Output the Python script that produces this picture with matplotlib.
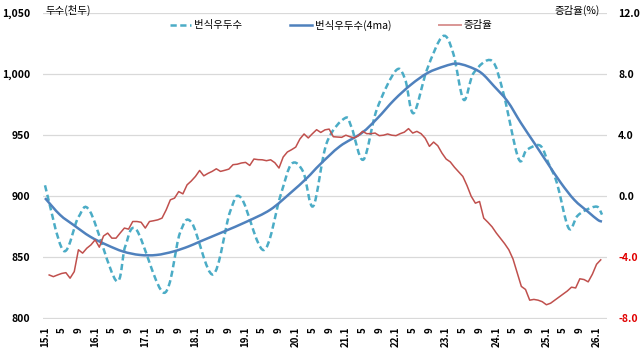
import numpy as np
import matplotlib
matplotlib.use("Agg")
import matplotlib.pyplot as plt
from matplotlib.path import Path
from matplotlib.patches import PathPatch
from matplotlib.lines import Line2D
from matplotlib.ticker import FuncFormatter

plt.rcParams['font.family'] = ['Noto Sans CJK KR', 'DejaVu Sans']

# x positions are month indices, 0 = 2015.1
tick_pos = list(range(0, 133, 4))
tick_labels = []
for i in tick_pos:
    yy, mo = 15 + i // 12, i % 12 + 1
    tick_labels.append(f"{yy}.1" if mo == 1 else str(mo))

# 번식우두수 (thousand head)
herd_pos = [0, 4.4, 8.0, 10.8, 17.0, 19.2, 21.9, 28.5, 32.3, 35.1, 40.2, 44.3,
            47.0, 52.3, 56.3, 59.0, 61.8, 64.2, 67.4, 71.8, 73.4, 76.2, 79.4,
            84.0, 86.2, 88.2, 91.4, 95.2, 97.7, 100.2, 102.6, 106.9, 109.7,
            113.3, 115.3, 118.5, 120.5, 122.5, 125.3, 127.3, 129.3, 132.1, 133.3]
herd_val = [909, 855.5, 883, 887.5, 831, 859, 872.5, 821, 870, 878.5, 836, 887.5,
            898.5, 856, 900, 926.5, 920, 892, 943.5, 964, 956, 930, 971,
            1003, 995.5, 968, 1003.5, 1031, 1017, 979, 1001, 1011, 984.5,
            931, 938, 941.5, 927, 911, 874, 883.5, 888.5, 891.5, 885]

# 번식우두수(4ma)
ma_pos = [0, 3.6, 6.8, 10.8, 14.8, 18.7, 22.7, 26.7, 30.7, 34.3, 37.1, 42.7,
          48.3, 53.9, 58.7, 62.7, 65.8, 70.6, 75.8, 79.6, 83.6, 87.6, 91.6,
          95.6, 98.4, 101.2, 104.4, 107.5, 110.7, 113.9, 117.1, 120.3, 123.5,
          126.7, 129.9, 132.3, 133.3]
ma_val = [898.5, 884.8, 876.6, 867, 860.2, 854.8, 852, 852, 854.8, 858.9, 863, 871,
          879.3, 889, 902.6, 915, 926, 941, 951.8, 964, 979, 991.4, 1001,
          1006.4, 1008.6, 1006.4, 1001, 990, 977.7, 960, 943.6, 927, 910.8,
          897, 887.5, 880.7, 879.3]

# 증감율 (%), monthly from 2015.2
rate_val = [-5.15, -5.26, -5.15, -5.05, -5.0, -5.36, -4.93, -3.5, -3.72, -3.4,
            -3.18, -2.85, -3.33, -2.6, -2.41, -2.74, -2.74, -2.4, -2.08, -2.15,
            -1.65, -1.65, -1.7, -2.08, -1.65, -1.6, -1.54, -1.43, -0.89, -0.23,
            -0.12, 0.31, 0.16, 0.75, 1.0, 1.3, 1.69, 1.34, 1.5, 1.63,
            1.8, 1.63, 1.7, 1.78, 2.07, 2.1, 2.18, 2.22, 2.02, 2.44,
            2.4, 2.39, 2.33, 2.39, 2.2, 1.85, 2.57, 2.9, 3.05, 3.22,
            3.75, 4.08, 3.82, 4.1, 4.36, 4.18, 4.35, 4.4, 3.9, 3.88,
            3.86, 4.0, 3.9, 3.82, 3.97, 4.25, 4.1, 4.1, 4.14, 3.97,
            4.0, 4.08, 4.0, 3.97, 4.1, 4.2, 4.43, 4.14, 4.25, 4.1,
            3.8, 3.27, 3.55, 3.31, 2.83, 2.44, 2.25, 1.9, 1.6, 1.3,
            0.7, 0.0, -0.45, -0.34, -1.43, -1.7, -2.0, -2.4, -2.75, -3.1,
            -3.5, -4.1, -5.0, -5.9, -6.1, -6.8, -6.75, -6.8, -6.9, -7.1,
            -7.0, -6.8, -6.6, -6.4, -6.2, -5.95, -6.0, -5.4, -5.45, -5.6,
            -5.1, -4.45, -4.16]
rate_pos = list(range(1, len(rate_val) + 1))

TEAL = '#4BACC6'
BLUE = '#4F81BD'
RED = '#C0504D'
DASH = (0, (2.5, 1.4))


def smooth_path(xs, ys):
    # catmull-rom through the points, like excel's smoothed line
    pts = np.column_stack([xs, ys]).astype(float)
    p = np.vstack([pts[0], pts, pts[-1]])
    verts = [pts[0]]
    codes = [Path.MOVETO]
    for i in range(1, len(p) - 2):
        p0, p1, p2, p3 = p[i - 1], p[i], p[i + 1], p[i + 2]
        verts += [p1 + (p2 - p0) / 6, p2 - (p3 - p1) / 6, p2]
        codes += [Path.CURVE4] * 3
    return Path(verts, codes)


fig = plt.figure(figsize=(6.43, 3.53), dpi=100)
ax = fig.add_axes([43 / 643, 1 - 318.5 / 353, 564 / 643, 305.5 / 353])
ax2 = ax.twinx()

ax.add_patch(PathPatch(smooth_path(herd_pos, herd_val), fill=False,
                       edgecolor=TEAL, lw=1.8, linestyle=DASH, zorder=3))
ax.add_patch(PathPatch(smooth_path(ma_pos, ma_val), fill=False,
                       edgecolor=BLUE, lw=1.8, zorder=4))
ax2.plot(rate_pos, rate_val, color=RED, lw=1.1)

ax.set_xlim(-0.48, 134.5)
ax.set_ylim(800, 1050)
ax2.set_ylim(-8, 12)
ax.set_yticks(range(800, 1051, 50))
ax2.set_yticks(range(-8, 13, 4))
ax.yaxis.set_major_formatter(FuncFormatter(lambda v, p: f"{v:,.0f}"))
ax2.yaxis.set_major_formatter(FuncFormatter(lambda v, p: f"{v:.1f}"))
ax.set_xticks(tick_pos)
ax.set_xticklabels(tick_labels, rotation=90)

ax.grid(axis='y', color='#D9D9D9', lw=0.9)
ax.set_axisbelow(True)
for a in (ax, ax2):
    for s in a.spines.values():
        s.set_visible(False)
    a.tick_params(length=0)
ax.tick_params(axis='y', pad=9, labelsize=7.5)
ax.tick_params(axis='x', pad=6, labelsize=7)
ax2.tick_params(axis='y', pad=8, labelsize=7.5)
for lbl in ax.get_xticklabels() + ax.get_yticklabels() + ax2.get_yticklabels():
    lbl.set_fontweight('bold')
for lbl, v in zip(ax2.get_yticklabels(), ax2.get_yticks()):
    if v < 0:
        lbl.set_color('#E00000')

fig.text(45 / 643, 1 - 10 / 353, '두수(천두)', fontsize=7.5, va='center', ha='left')
fig.text(600 / 643, 1 - 10 / 353, '증감율(%)', fontsize=7.5, va='center', ha='right')

handles = [Line2D([], [], color=TEAL, lw=1.8, linestyle=DASH),
           Line2D([], [], color=BLUE, lw=1.8),
           Line2D([], [], color=RED, lw=1.4, alpha=0.6)]
fig.legend(handles, ['번식우두수', '번식우두수(4ma)', '증감율'], loc='center',
           bbox_to_anchor=(331 / 643, 1 - 25 / 353), ncol=3, frameon=False,
           fontsize=7.5, handlelength=2.1, handletextpad=0.25, columnspacing=4.6)

fig.savefig('out.png', dpi=100)
